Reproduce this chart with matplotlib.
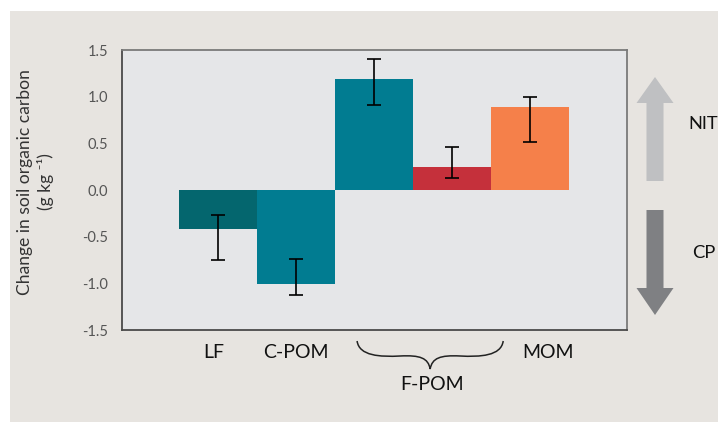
import matplotlib.pyplot as plt
import matplotlib.patches as mpatches
from matplotlib.path import Path
from matplotlib.transforms import blended_transform_factory

plt.rcParams['font.family'] = ['Lato', 'DejaVu Sans']

# data
fractions = ['LF', 'C-POM', 'F-POM', 'F-POM', 'MOM']
change = [-0.42, -1.01, 1.19, 0.25, 0.89]
err_low = [0.33, 0.12, 0.28, 0.125, 0.38]
err_high = [0.15, 0.27, 0.21, 0.21, 0.11]
bar_colors = ['#04666e', '#017c91', '#017c91', '#c5303b', '#f5804a']
yticks = [-1.5, -1.0, -0.5, 0.0, 0.5, 1.0, 1.5]

W, H = 718, 422
fig = plt.figure(figsize=(W / 100, H / 100), dpi=100)
fig.patch.set_facecolor('white')

def fx(px):
    return px / W

def fy(py):
    return 1 - py / H

# beige panel behind everything
fig.patches.append(mpatches.Rectangle((fx(10), 0), 1, fy(11), transform=fig.transFigure,
                                      facecolor='#e7e4e0', edgecolor='none', zorder=-5))

ax = fig.add_axes([fx(122), fy(330), fx(627) - fx(122), fy(50) - fy(330)])
ax.set_facecolor('#e5e6e8')

x = list(range(len(change)))
ax.bar(x, change, width=1.0, color=bar_colors, zorder=2)
ax.errorbar(x, change, yerr=[err_low, err_high], fmt='none', ecolor='black',
            elinewidth=1.2, capsize=4.7, capthick=1.2, zorder=3)

ax.set_xlim(-1.23, 5.24)
ax.set_ylim(-1.5, 1.5)
ax.set_yticks(yticks)
ax.set_yticklabels([f'{t:.1f}' for t in yticks], color='#555555', fontsize=10.5)
ax.tick_params(axis='y', length=0, pad=10)
ax.set_xticks([])

for s in ['left', 'bottom']:
    ax.spines[s].set_color('#4a4a4a')
    ax.spines[s].set_linewidth(1.3)
for s in ['top', 'right']:
    ax.spines[s].set_color('#7a7a7a')
    ax.spines[s].set_linewidth(1.3)

# category labels under the axis
tr = blended_transform_factory(ax.transData, fig.transFigure)
label_x = {'LF': -0.06, 'C-POM': 1.0, 'MOM': 4.23}
for name, lx in label_x.items():
    ax.text(lx, fy(353), name, transform=tr, ha='center', va='center', fontsize=14, color='#111111')
ax.text(2.74, fy(385), 'F-POM', transform=tr, ha='center', va='center', fontsize=14, color='#111111')

# curly brace grouping the two F-POM bars
def dx(px):
    return (px - 179) / 78 - 0.5

brace = [(dx(357), fy(341)),
         (dx(359), fy(356)), (dx(380), fy(357)), (dx(400), fy(356)),
         (dx(420), fy(355)), (dx(428), fy(358)), (dx(430), fy(369)),
         (dx(432), fy(358)), (dx(440), fy(355)), (dx(460), fy(356)),
         (dx(480), fy(357)), (dx(501), fy(356)), (dx(503), fy(341))]
codes = [Path.MOVETO] + [Path.CURVE4] * 12
ax.add_patch(mpatches.PathPatch(Path(brace, codes), transform=tr, facecolor='none',
                                edgecolor='#222222', linewidth=1.1, clip_on=False))

# direction arrows on the right
def arrow(tip_y, head_y, tail_y, color):
    cx = 655
    pts = [(cx, tip_y), (cx + 18.5, head_y), (cx + 8.5, head_y), (cx + 8.5, tail_y),
           (cx - 8.5, tail_y), (cx - 8.5, head_y), (cx - 18.5, head_y)]
    fig.patches.append(mpatches.Polygon([(fx(a), fy(b)) for a, b in pts], closed=True,
                                        transform=fig.transFigure, facecolor=color,
                                        edgecolor='none', zorder=1))

arrow(77, 103, 181, '#bfc0c2')
arrow(315, 288, 210, '#7f8083')
fig.text(fx(688), fy(124), 'NIT', ha='left', va='center', fontsize=13.2, color='#111111')
fig.text(fx(692), fy(253), 'CP', ha='left', va='center', fontsize=13.2, color='#111111')

# y axis title, two lines
fig.text(fx(25), fy(182), 'Change in soil organic carbon', rotation=90, ha='center', va='center',
         fontsize=12.6, color='#333333')
fig.text(fx(45), fy(182), '(g kg \u207b\u00b9)', rotation=90, ha='center', va='center',
         fontsize=12.6, color='#333333')

fig.savefig('out.png', dpi=100, facecolor=fig.get_facecolor())
